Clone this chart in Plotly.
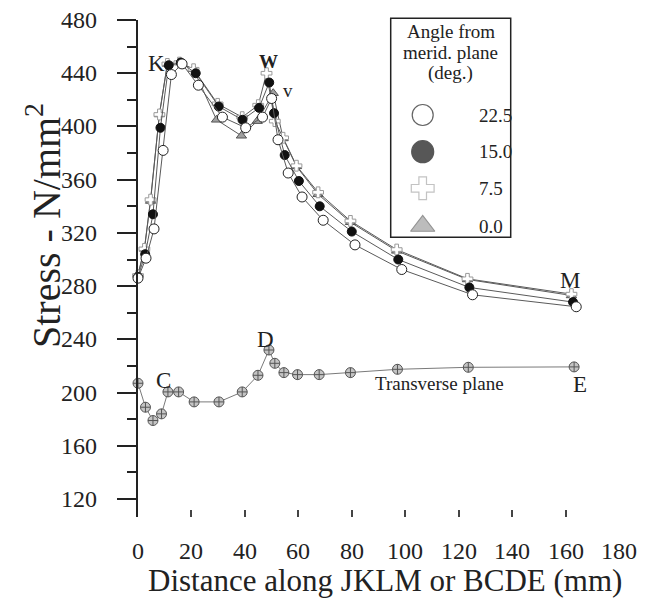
import plotly.graph_objects as go

# ---------------- data ----------------
x_225 = [0, 3.0, 6.0, 9.4, 12.5, 16.5, 22.6, 31.6, 40.3, 46.6, 50.0, 52.4, 56.2, 61.4, 69.3, 81.2, 98.7, 125.2, 164.0]
y_225 = [286, 301, 323, 382, 439, 447, 431, 407, 399, 407, 421, 390, 365, 347, 329.5, 311, 292.5, 273.5, 264.5]

x_150 = [0, 2.7, 5.6, 8.4, 11.5, 16.0, 21.6, 30.2, 39.1, 45.3, 49.1, 50.9, 54.9, 60.2, 68.0, 80.0, 97.4, 124.0, 162.8]
y_150 = [287, 304, 334, 399, 446, 448, 440, 415, 405, 414, 433, 410, 378.5, 359, 340, 321, 300, 279, 268]

x_75 = [0, 2.4, 4.7, 8.0, 11.0, 15.5, 20.8, 29.8, 39.0, 45.0, 48.1, 51.2, 54.3, 59.3, 67.4, 79.5, 96.8, 123.3, 162.2]
y_75 = [288, 308, 345, 409, 447, 448, 443, 417, 407, 416, 440, 404, 391.5, 370.5, 350.5, 329, 307.5, 285.5, 274]

x_00 = [0, 2.4, 4.7, 8.0, 11.0, 15.5, 20.8, 29.4, 38.7, 44.6, 50.6, 54.3, 59.3, 67.4, 79.5, 96.8, 123.3, 162.2]
y_00 = [289, 308, 344, 409, 447, 448, 443, 405, 393, 404, 425, 391, 370, 349, 328, 306.5, 285, 273]

x_tr = [0, 2.8, 5.6, 8.8, 11.2, 15.2, 21.0, 30.3, 39.0, 44.9, 49.0, 51.2, 54.6, 59.7, 67.8, 79.5, 97.1, 123.6, 163.2]
y_tr = [207, 189, 179, 184, 200.5, 200.5, 193, 193, 200.5, 213, 232, 222, 215, 213.5, 213.5, 215, 217.5, 219, 219.3]

legend_title = ["Angle from", "merid. plane", "(deg.)"]
legend_labels = ["22.5", "15.0", "7.5", "0.0"]

point_labels = ["J", "K", "w", "v", "M", "B", "C", "D", "E"]
label_x = [-4.2, 6.8, 49.0, 56.3, 161.7, -5.9, 9.7, 47.8, 165.4]
label_y = [285, 447, 449, 427, 284, 205, 209, 240, 206]

tick_x = [0, 20, 40, 60, 80, 100, 120, 140, 160, 180]
tick_y = [120, 160, 200, 240, 280, 320, 360, 400, 440, 480]

# ---------------- layout geometry ----------------
W, H = 649, 599
ML, MR, MT, MB = 138, 30, 20, 82
PW, PH = W - ML - MR, H - MT - MB
FONT = "'Liberation Serif', 'Times New Roman', Times, serif"
TXT = "#222"


def px(xp):
    return (xp - ML) / PW


def py(yp):
    return 1 - (yp - MT) / PH


fig = go.Figure()

line_col = "#5a5a5a"
fig.add_trace(go.Scatter(x=x_tr, y=y_tr, mode="lines+markers",
                         line=dict(color="#7a7a7a", width=1),
                         marker=dict(symbol="circle-cross", size=10, color="#c4c4c4",
                                     line=dict(color="#555", width=1)),
                         cliponaxis=False, showlegend=False))
fig.add_trace(go.Scatter(x=x_00, y=y_00, mode="lines+markers",
                         line=dict(color=line_col, width=1),
                         marker=dict(symbol="triangle-up", size=9, color="#a0a0a0",
                                     line=dict(color="#555", width=1)),
                         cliponaxis=False, showlegend=False))
fig.add_trace(go.Scatter(x=x_75, y=y_75, mode="lines+markers",
                         line=dict(color=line_col, width=1),
                         marker=dict(symbol="cross", size=9, color="white",
                                     line=dict(color="#999", width=1)),
                         cliponaxis=False, showlegend=False))
fig.add_trace(go.Scatter(x=x_150, y=y_150, mode="lines+markers",
                         line=dict(color=line_col, width=1),
                         marker=dict(symbol="circle", size=9, color="#111",
                                     line=dict(color="#111", width=1)),
                         cliponaxis=False, showlegend=False))
fig.add_trace(go.Scatter(x=x_225, y=y_225, mode="lines+markers",
                         line=dict(color=line_col, width=1),
                         marker=dict(symbol="circle", size=10, color="white",
                                     line=dict(color="#222", width=1)),
                         cliponaxis=False, showlegend=False))

# legend markers (overlay paper-like axes)
leg_y_px = [115, 151.7, 188.3, 226]
leg_marker_x = 422.7
fig.add_trace(go.Scatter(
    x=[px(leg_marker_x)] * 4, y=[py(v) for v in leg_y_px], mode="markers",
    xaxis="x2", yaxis="y2", showlegend=False, cliponaxis=False,
    marker=dict(symbol=["circle", "circle", "cross", "triangle-up"],
                size=[21, 22, 19, 21],
                color=["white", "#111", "white", "#a0a0a0"],
                line=dict(color=["#222", "#111", "#aaa", "#666"], width=1.2))))

annotations = []
for t, xx, yy in zip(point_labels, label_x, label_y):
    fs = 19 if t in ("w", "v") else 23
    txt = "<b>W</b>" if t == "w" else t
    annotations.append(dict(x=xx, y=yy, text=txt, showarrow=False, xref="x", yref="y",
                            font=dict(family=FONT, size=fs, color=TXT)))
annotations.append(dict(x=112.8, y=207, text="Transverse plane", showarrow=False,
                        font=dict(family=FONT, size=19, color=TXT)))
# tick labels
for v in tick_y:
    annotations.append(dict(x=px(99), y=v, xref="paper", yref="y", text=str(v),
                            showarrow=False, xanchor="right", yanchor="middle",
                            font=dict(family=FONT, size=24, color=TXT)))
for v in tick_x:
    annotations.append(dict(x=v, y=py(551), xref="x", yref="paper", text=str(v),
                            showarrow=False, xanchor="center", yanchor="middle",
                            font=dict(family=FONT, size=24, color=TXT)))
# legend title
for i, t in enumerate(legend_title):
    annotations.append(dict(x=px(450.5), y=py(31.7 + 20.7 * i), xref="paper", yref="paper",
                            text=t, showarrow=False, xanchor="center", yanchor="middle",
                            font=dict(family=FONT, size=19, color=TXT)))
for t, yy in zip(legend_labels, leg_y_px):
    annotations.append(dict(x=px(476.7), y=py(yy), xref="paper", yref="paper",
                            text=t, showarrow=False, xanchor="left", yanchor="middle",
                            font=dict(family=FONT, size=19, color=TXT)))
# axis titles
annotations.append(dict(x=px(43), y=py(226), xref="paper", yref="paper", textangle=-90,
                        text="Stress - N/mm<sup>2</sup>", showarrow=False,
                        xanchor="center", yanchor="middle",
                        font=dict(family=FONT, size=40, color=TXT)))
annotations.append(dict(x=px(385), y=py(580), xref="paper", yref="paper",
                        text="Distance along JKLM or BCDE (mm)", showarrow=False,
                        xanchor="center", yanchor="middle",
                        font=dict(family=FONT, size=31, color=TXT)))

fig.update_layout(
    width=W, height=H, margin=dict(l=ML, r=MR, t=MT, b=MB),
    paper_bgcolor="white", plot_bgcolor="white",
    annotations=annotations,
    shapes=[dict(type="rect", xref="paper", yref="paper",
                 x0=px(390.7), x1=px(510.7), y0=py(237.3), y1=py(18.3),
                 line=dict(color="#222", width=1.5), fillcolor="rgba(0,0,0,0)")],
    xaxis=dict(range=[0, 180], tickvals=tick_x, ticks="inside", ticklen=7, tickwidth=1.5,
               tickcolor="#444", showline=False, showgrid=False, zeroline=False,
               showticklabels=False),
    yaxis=dict(range=[106.5, 480], tickvals=tick_y, ticks="outside", ticklen=19, tickwidth=2,
               tickcolor="#222", showline=True, linewidth=2, linecolor="#222",
               showgrid=False, zeroline=False, showticklabels=False,
               minor=dict(dtick=20, tick0=0, ticks="outside", ticklen=9, tickwidth=2,
                          tickcolor="#222", showgrid=False)),
    xaxis2=dict(range=[0, 1], overlaying="x", visible=False, domain=[0, 1]),
    yaxis2=dict(range=[0, 1], overlaying="y", visible=False, domain=[0, 1]),
)

fig.write_html("out.html")
